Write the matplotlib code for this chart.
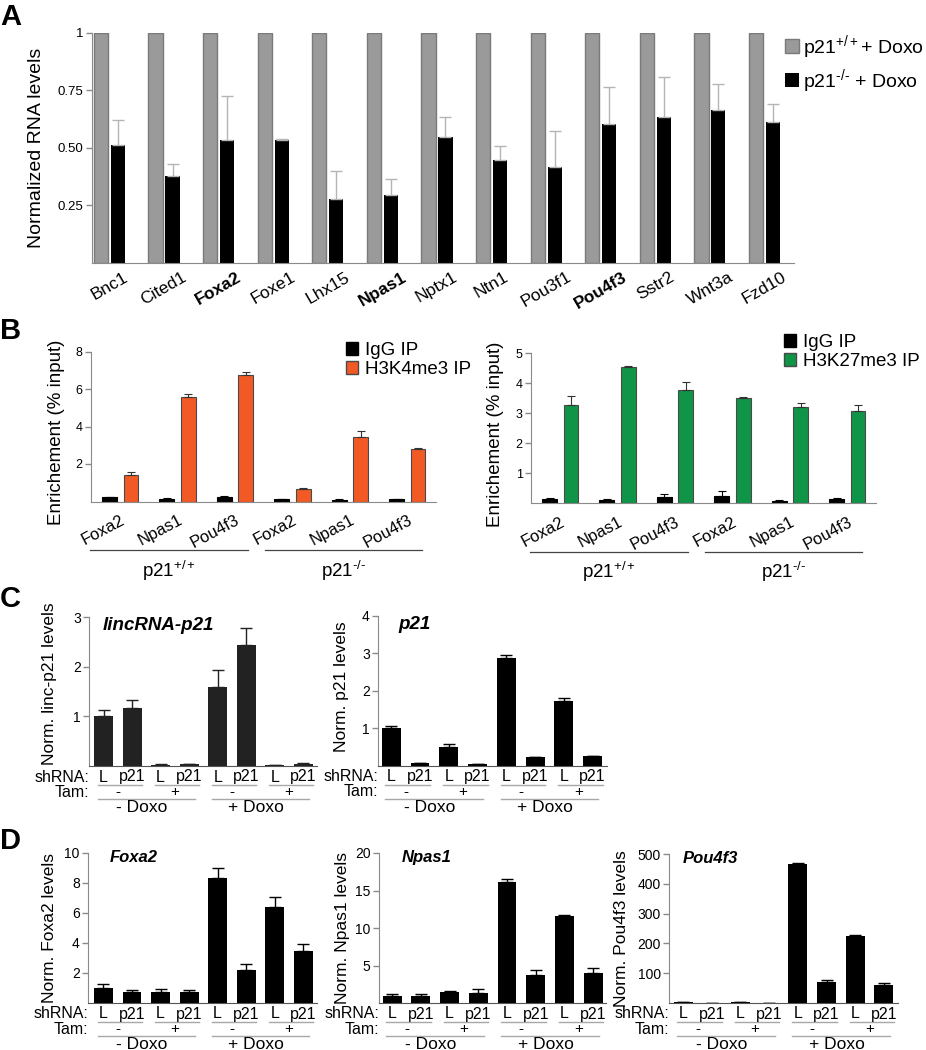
import matplotlib
matplotlib.use('Agg')
import matplotlib.pyplot as plt
import numpy as np
from matplotlib.transforms import ScaledTranslation, blended_transform_factory
from matplotlib.patches import Patch
from matplotlib.lines import Line2D

plt.rcParams['font.family'] = ['Liberation Sans', 'DejaVu Sans']
plt.rcParams['mathtext.fontset'] = 'custom'
plt.rcParams['mathtext.rm'] = 'Liberation Sans'
plt.rcParams['mathtext.it'] = 'Liberation Sans:italic'
plt.rcParams['mathtext.bf'] = 'Liberation Sans:bold'
plt.rcParams['mathtext.default'] = 'regular'

# ---------------- DATA ----------------
# Panel A
genes_a = ['Bnc1', 'Cited1', 'Foxa2', 'Foxe1', 'Lhx15', 'Npas1', 'Nptx1',
           'Ntn1', 'Pou3f1', 'Pou4f3', 'Sstr2', 'Wnt3a', 'Fzd10']
bold_a = ['Foxa2', 'Npas1', 'Pou4f3']
wt_a = [1, 1, 1, 1, 1, 1, 1, 1, 1, 1, 1, 1, 1]
ko_a = [0.51, 0.375, 0.535, 0.535, 0.278, 0.294, 0.546, 0.447, 0.415, 0.603, 0.635, 0.664, 0.612]
ko_a_err = [0.11, 0.055, 0.19, 0.005, 0.122, 0.072, 0.089, 0.062, 0.159, 0.163, 0.175, 0.112, 0.08]
legend_a = ['p21$^{+/+}$+ Doxo', 'p21$^{\\text{-/-}}$ + Doxo']

# Panel B
genes_b = ['Foxa2', 'Npas1', 'Pou4f3', 'Foxa2', 'Npas1', 'Pou4f3']
groups_b = ['p21$^{+/+}$', 'p21$^{\\text{-/-}}$']
igg_k4 = [0.22, 0.15, 0.25, 0.12, 0.10, 0.13]
igg_k4_err = [0.03, 0.02, 0.04, 0.02, 0.02, 0.02]
k4 = [1.40, 5.56, 6.75, 0.68, 3.46, 2.78]
k4_err = [0.17, 0.19, 0.17, 0.04, 0.28, 0.09]
igg_k27 = [0.15, 0.12, 0.22, 0.25, 0.09, 0.15]
igg_k27_err = [0.02, 0.01, 0.08, 0.15, 0.02, 0.02]
k27 = [3.28, 4.53, 3.78, 3.50, 3.21, 3.08]
k27_err = [0.30, 0.05, 0.25, 0.06, 0.12, 0.20]

# Panels C & D
shrna = ['L', 'p21', 'L', 'p21', 'L', 'p21', 'L', 'p21']
tam = ['-', '+', '-', '+']
doxo = ['- Doxo', '+ Doxo']
linc = [1.0, 1.16, 0.03, 0.04, 1.60, 2.43, 0.02, 0.04]
linc_err = [0.12, 0.16, 0.01, 0.01, 0.33, 0.35, 0.01, 0.03]
p21 = [1.0, 0.07, 0.50, 0.04, 2.86, 0.23, 1.72, 0.25]
p21_err = [0.05, 0.01, 0.07, 0.01, 0.08, 0.01, 0.09, 0.01]
foxa2 = [0.98, 0.71, 0.73, 0.75, 8.35, 2.20, 6.40, 3.49]
foxa2_err = [0.29, 0.16, 0.22, 0.12, 0.67, 0.38, 0.69, 0.42]
npas1 = [0.99, 0.99, 1.44, 1.40, 16.2, 3.70, 11.56, 4.05]
npas1_err = [0.20, 0.15, 0.16, 0.50, 0.40, 0.65, 0.24, 0.67]
pou4f3 = [2, 1, 3, 1, 465, 72, 225, 62]
pou4f3_err = [0.5, 0.3, 0.5, 0.3, 4, 4, 4, 6]

# ---------------- FIGURE ----------------
W, H = 926, 1050
fig = plt.figure(figsize=(W / 100, H / 100), dpi=100)


def rect(x0, y0, x1, y1):
    return [x0 / W, 1 - y1 / H, (x1 - x0) / W, (y1 - y0) / H]


def style_axes(ax, left_c='#8a8a8a', bottom_c='#8a8a8a', lsize=9.5):
    for s in ['top', 'right']:
        ax.spines[s].set_visible(False)
    ax.spines['left'].set_color(left_c)
    ax.spines['bottom'].set_color(bottom_c)
    ax.tick_params(axis='y', colors=left_c, labelcolor='black', length=4,
                   width=1, labelsize=lsize, pad=2)
    ax.tick_params(axis='x', length=0)


def off(ax, dy):
    return ax.get_xaxis_transform() + ScaledTranslation(0, -dy / 100, fig.dpi_scale_trans)


def panel_letter(txt, top):
    fig.text(0 / W, 1 - top / H, txt, fontsize=21, fontweight='bold', va='top', ha='left')


# ---------- Panel A ----------
axA = fig.add_axes(rect(92, 33, 794, 262.5))
xa = np.arange(len(genes_a))
axA.bar(xa - 0.155, wt_a, width=0.26, color='#9a9a9a', edgecolor='#7a7a7a', linewidth=1)
axA.bar(xa + 0.155, ko_a, width=0.26, color='black')
axA.errorbar(xa + 0.155, ko_a, yerr=[np.zeros(len(ko_a)), ko_a_err], fmt='none',
             ecolor='#b5b5b5', elinewidth=1, capsize=4, capthick=1)
axA.set_xlim(-0.32, 12.54)
axA.set_ylim(0, 1)
axA.set_yticks([0.25, 0.5, 0.75, 1])
axA.set_yticklabels(['0.25', '0.50', '0.75', '1'])
style_axes(axA, lsize=9.5)
axA.set_xticks(xa)
axA.set_xticklabels(genes_a, rotation=30, fontsize=12.5)
for lab in axA.get_xticklabels():
    if lab.get_text() in bold_a:
        lab.set_fontweight('bold')
axA.tick_params(axis='x', pad=5)
axA.set_ylabel('Normalized RNA levels', fontsize=14)
axA.yaxis.set_label_coords(-0.067, 0.5)
hA = [Patch(facecolor='#9a9a9a', edgecolor='#7a7a7a'), Patch(facecolor='black')]
fig.legend(hA, legend_a, loc='upper left', bbox_to_anchor=(785 / W, 1 - 33 / H),
           frameon=False, fontsize=14, handlelength=0.72, handleheight=0.72,
           handletextpad=0.22, labelspacing=0.3, borderpad=0, borderaxespad=0)
panel_letter('A', 3)


# ---------- Panel B ----------
def panel_b(ax, igg, igg_err, val, val_err, color, ymax, yt, leg, leg_xy):
    xb = np.arange(len(genes_b))
    ax.bar(xb - 0.187, igg, width=0.26, color='black', edgecolor='black', linewidth=0.8)
    ax.bar(xb + 0.187, val, width=0.26, color=color, edgecolor='#4a4a4a', linewidth=0.8)
    ax.errorbar(xb - 0.187, igg, yerr=[np.zeros(6), igg_err], fmt='none', ecolor='black',
                elinewidth=0.8, capsize=3, capthick=0.8)
    ax.errorbar(xb + 0.187, val, yerr=[np.zeros(6), val_err], fmt='none', ecolor='#333333',
                elinewidth=0.8, capsize=3, capthick=0.8)
    ax.set_xlim(-0.51, 5.5)
    ax.set_ylim(0, ymax)
    ax.set_yticks(yt)
    style_axes(ax, lsize=9)
    ax.set_xticks(xb)
    ax.set_xticklabels(genes_b, rotation=28, ha='right', rotation_mode='anchor', fontsize=12)
    ax.tick_params(axis='x', pad=8)
    ax.set_ylabel('Enrichement (% input)', fontsize=13.5)
    for (a, b), g in zip([(-0.53, 2.23), (2.52, 5.26)], groups_b):
        ax.add_line(Line2D([a, b], [0, 0], transform=off(ax, 48.5), color='#444444',
                           lw=0.9, clip_on=False))
        ax.text((a + b) / 2, 0, g, transform=off(ax, 69), ha='center', va='center', fontsize=13.5)
    h = [Patch(facecolor='black', edgecolor='black'), Patch(facecolor=color, edgecolor='#4a4a4a')]
    fig.legend(h, ['IgG IP', leg], loc='upper left', bbox_to_anchor=leg_xy, frameon=False,
               fontsize=13.5, handlelength=0.65, handleheight=0.65, handletextpad=0.35,
               labelspacing=0.1, borderpad=0, borderaxespad=0)


axB1 = fig.add_axes(rect(91, 351.5, 436, 501.5))
panel_b(axB1, igg_k4, igg_k4_err, k4, k4_err, '#f15a24', 8, [2, 4, 6, 8],
        'H3K4me3 IP', (346 / W, 1 - 342 / H))
axB1.yaxis.set_label_coords(-0.075, 0.46)
axB2 = fig.add_axes(rect(531, 353.3, 876, 503.3))
panel_b(axB2, igg_k27, igg_k27_err, k27, k27_err, '#109448', 5, [1, 2, 3, 4, 5],
        'H3K27me3 IP', (784 / W, 1 - 334 / H))
axB2.yaxis.set_label_coords(-0.078, 0.46)
panel_letter('B', 317)


# ---------- Panels C & D ----------
def panel_cd(ax, vals, errs, ymax, yt, title, ylabel, title_xy, color='black', xl=(-0.5, 7.48),
             ylab_xy=(-0.135, 0.5), tsize=13):
    x = np.arange(len(vals))
    ax.bar(x, vals, width=0.66, color=color)
    ax.errorbar(x, vals, yerr=[np.zeros(len(vals)), errs], fmt='none', ecolor=color,
                elinewidth=1, capsize=4.5, capthick=1)
    ax.set_xlim(*xl)
    ax.set_ylim(0, ymax)
    ax.set_yticks(yt)
    style_axes(ax, left_c='#8a8a8a', bottom_c='#555555', lsize=10)
    ax.set_xticks([])
    ax.set_ylabel(ylabel, fontsize=12.5)
    ax.yaxis.set_label_coords(*ylab_xy)
    ax.text(title_xy[0], title_xy[1], title, transform=ax.transAxes, fontsize=tsize,
            fontweight='bold', fontstyle='italic', ha='left', va='center')
    for i, s in enumerate(shrna):
        ax.text(i, 0, s, transform=off(ax, 11), ha='center', va='center', fontsize=11.5)
    for k, t in enumerate(tam):
        ax.add_line(Line2D([2 * k - 0.2, 2 * k + 1.35], [0, 0], transform=off(ax, 18.8),
                           color='#a8a8a8', lw=1, clip_on=False))
        ax.text(2 * k + 0.5, 0, t, transform=off(ax, 26.3), ha='center', va='center', fontsize=11)
    for (a, b), d in zip([(-0.2, 3.2), (3.8, 7.2)], doxo):
        ax.add_line(Line2D([a, b], [0, 0], transform=off(ax, 33), color='#a8a8a8', lw=1,
                           clip_on=False))
        ax.text((a + b) / 2 - 0.15, 0, d, transform=off(ax, 41.5), ha='center', va='center',
                fontsize=12.5)
    tr = blended_transform_factory(ax.transAxes, ax.transAxes)
    ax.text(0, 0, 'shRNA:', transform=tr + ScaledTranslation(0, -11 / 100, fig.dpi_scale_trans),
            ha='right', va='center', fontsize=11.5)
    ax.text(0, 0, 'Tam:', transform=tr + ScaledTranslation(0, -26.3 / 100, fig.dpi_scale_trans),
            ha='right', va='center', fontsize=11.5)


axC1 = fig.add_axes(rect(89, 617, 317, 766))
panel_cd(axC1, linc, linc_err, 3, [1, 2, 3], 'lincRNA-p21', 'Norm. linc-p21 levels',
         (0.061, 0.946), color='#222222', xl=(-0.51, 7.48), ylab_xy=(-0.14, 0.55), tsize=13.5)
axC2 = fig.add_axes(rect(378, 615.7, 607, 765.7))
panel_cd(axC2, p21, p21_err, 4, [1, 2, 3, 4], 'p21', 'Norm. p21 levels',
         (0.087, 0.94), xl=(-0.46, 7.5), ylab_xy=(-0.127, 0.53), tsize=13.5)
panel_letter('C', 585)

axD1 = fig.add_axes(rect(88, 853, 317, 1003))
panel_cd(axD1, foxa2, foxa2_err, 10, [2, 4, 6, 8, 10], 'Foxa2', 'Norm. Foxa2 levels',
         (0.096, 0.973), xl=(-0.54, 7.48), ylab_xy=(-0.135, 0.5), tsize=12)
axD2 = fig.add_axes(rect(379, 853, 606, 1003))
panel_cd(axD2, npas1, npas1_err, 20, [5, 10, 15, 20], 'Npas1', 'Norm. Npas1 levels',
         (0.1, 0.973), xl=(-0.46, 7.45), ylab_xy=(-0.128, 0.5), tsize=12)
axD3 = fig.add_axes(rect(669, 854, 898, 1003))
panel_cd(axD3, pou4f3, pou4f3_err, 500, [100, 200, 300, 400, 500], 'Pou4f3',
         'Norm. Pou4f3 levels', (0.061, 0.973), xl=(-0.49, 7.49), ylab_xy=(-0.175, 0.5), tsize=12)
panel_letter('D', 827)

fig.savefig('out.png', dpi=100)
